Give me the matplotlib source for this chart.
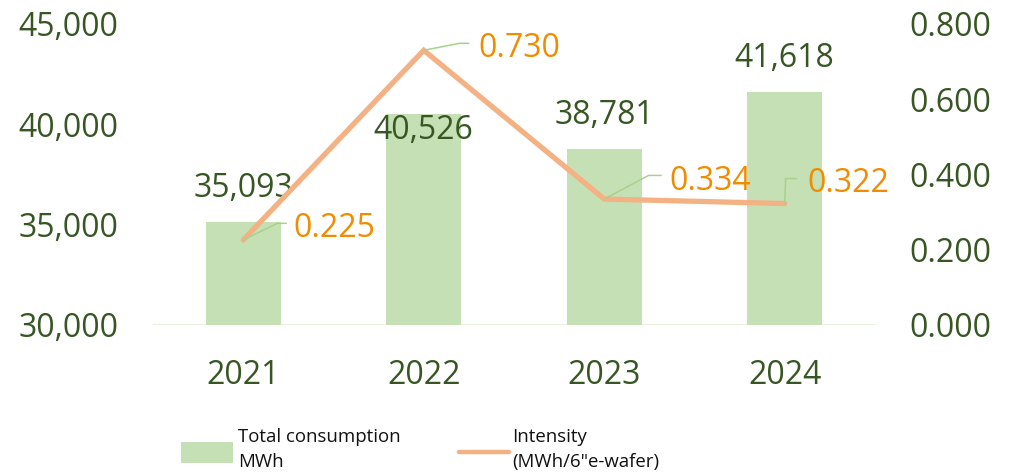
import matplotlib
matplotlib.use("Agg")
import matplotlib.pyplot as plt
from matplotlib.patches import Rectangle
from matplotlib.lines import Line2D
from matplotlib.ticker import FuncFormatter

years = ["2021", "2022", "2023", "2024"]
consumption = [35093, 40526, 38781, 41618]
intensity = [0.225, 0.730, 0.334, 0.322]

left_ticks = [30000, 35000, 40000, 45000]
right_ticks = [0.0, 0.2, 0.4, 0.6, 0.8]

legend_labels = ["Total consumption\nMWh", "Intensity\n(MWh/6\"e-wafer)"]

bar_color = "#C5E0B4"
line_color = "#F4B183"
text_dark = "#375623"
label_orange = "#F08C00"
leader_color = "#A9D18E"
legend_text = "#111111"

plt.rcParams["font.family"] = ["Open Sans", "DejaVu Sans"]

W, H = 1020, 472
fig = plt.figure(figsize=(W / 100, H / 100), dpi=100)
ax = fig.add_axes([0.15, 0.3125, 0.7078, 0.6367])
ax2 = ax.twinx()

x = list(range(len(years)))
ax.bar(x, consumption, width=0.415, color=bar_color, zorder=2)
ax.set_xlim(-0.5, 3.5)
ax.set_ylim(30000, 45000)
ax.set_yticks(left_ticks)
ax.yaxis.set_major_formatter(FuncFormatter(lambda v, p: f"{v:,.0f}"))
ax.set_xticks(x)
ax.set_xticklabels(years)

ax2.plot(x, intensity, color=line_color, lw=3.8, solid_capstyle="round",
         solid_joinstyle="miter", zorder=3)
ax2.set_ylim(0, 0.8)
ax2.set_yticks(right_ticks)
ax2.yaxis.set_major_formatter(FuncFormatter(lambda v, p: f"{v:.3f}"))

for a in (ax, ax2):
    for s in a.spines.values():
        s.set_visible(False)
    a.tick_params(length=0, labelsize=23, colors=text_dark)
ax.tick_params(axis="y", pad=25)
ax2.tick_params(axis="y", pad=25)
ax.tick_params(axis="x", pad=25)
ax.axhline(30000, color="#E2EFD9", lw=2.0, zorder=1)

# bar value labels (points offset from bar top to baseline)
bar_offsets = [18, -18.5, 18, 17.5]
for xi, v, off in zip(x, consumption, bar_offsets):
    ax.annotate(f"{v:,}", xy=(xi, v), xytext=(0, off), textcoords="offset points",
                ha="center", va="baseline", fontsize=23, color=text_dark, zorder=4)

# intensity labels with leader lines
label_pos = [(36, 2), (39, -4.5), (47, 6.5), (16, 8)]
leader_start = [(31, 12), (32.5, 5), (41, 17), (8.5, 18)]
leader_angle = [26, 11, 28, 88]
for xi, v, (tx, ty), (lx, ly), ang in zip(x, intensity, label_pos, leader_start, leader_angle):
    ax2.annotate("", xy=(xi, v), xytext=(lx, ly), textcoords="offset points",
                 arrowprops=dict(arrowstyle="-", color=leader_color, lw=1.1,
                                 shrinkA=0, shrinkB=0,
                                 connectionstyle=f"angle,angleA=0,angleB={ang},rad=0"),
                 zorder=4)
    ax2.annotate(f"{v:.3f}", xy=(xi, v), xytext=(tx, ty), textcoords="offset points",
                 ha="left", va="baseline", fontsize=23, color=label_orange, zorder=5)

# legend below the plot
def fx(px):
    return px / W

def fy(py):
    return 1 - py / H

fig.patches.append(Rectangle((fx(181), fy(463)), fx(52), 21 / H,
                             transform=fig.transFigure, facecolor=bar_color,
                             edgecolor="none"))
fig.lines.append(Line2D([fx(459), fx(509)], [fy(452), fy(452)],
                        transform=fig.transFigure, color=line_color, lw=3.2,
                        solid_capstyle="round"))
for tx, label in zip([238, 512], legend_labels):
    first, second = label.split("\n")
    fig.text(fx(tx), fy(442), first, fontsize=13.4, color=legend_text,
             ha="left", va="baseline")
    fig.text(fx(tx), fy(467), second, fontsize=13.4, color=legend_text,
             ha="left", va="baseline")

fig.savefig("out.png", dpi=100)
